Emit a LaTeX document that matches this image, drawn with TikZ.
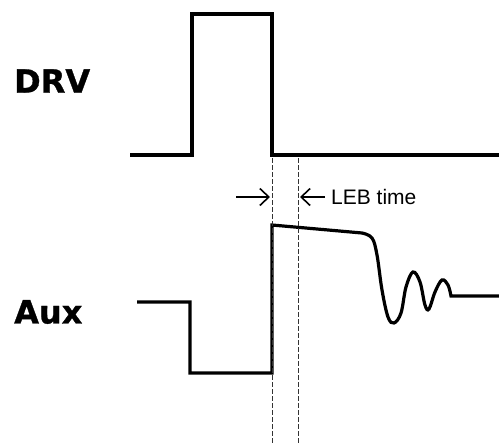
\documentclass[tikz,border=0pt]{standalone}
\usepackage{fontspec}
\setmainfont{Liberation Sans}
\newfontfamily\heavyfont[FakeBold=1]{DejaVu Sans}
\usepackage{tikz}
\usetikzlibrary{arrows.meta}

\begin{document}
\begin{tikzpicture}[x=1pt,y=-1pt,
        wave/.style={line width=3.2pt, line join=miter},
        guide/.style={dash pattern=on 4.5pt off 2.5pt, line width=1pt, black!80},
        marker/.style={-{Straight Barb[length=9pt, width=17pt, line width=1.6pt]}, line width=1.6pt},
        sig/.style={font=\heavyfont\bfseries\fontsize{32}{32}\selectfont, anchor=west, inner sep=0pt}]
        \useasboundingbox (0,0) rectangle (499,445);

        % signal names
        \node[sig] (drv) at (14,81) {DRV};
        \node[sig] (aux) at (14,312) {Aux};

        % DRV pulse
        \draw[wave] (130,155) -- (192,155) -- (192,14) -- (272,14) -- (272,155) -- (499,155);

        % Aux waveform with ringing
        \draw[wave] (137,302) -- (190,302) -- (190,373) -- (272,373) -- (272,225) -- (362,233)
            plot[smooth, tension=0.6] coordinates {(362,233) (372,238) (377,255) (382,290)
            (388,317) (394,323) (401,313) (406,287) (413,272) (420,282) (425,305) (429,309)
            (435,292) (442,280) (448,285) (451,296)} -- (499,296);

        % blanking window
        \coordinate (ga) at (272,158);
        \coordinate (gb) at (298,158);
        \coordinate (ea) at (272,445);
        \coordinate (eb) at (298,445);
        \draw[guide] (ga) -- (ea);
        \draw[guide] (gb) -- (eb);

        \coordinate (la) at (236,197);
        \coordinate (ra) at (270,197);
        \coordinate (lb) at (300,197);
        \node[anchor=west, inner sep=0pt, font=\fontsize{21}{21}\selectfont] (leb) at (331,197) {LEB time};
        \draw[marker] (la) -- (ra);
        \draw[marker] (leb.west) ++(-6,0) -- (lb);
    \end{tikzpicture}
\end{document}
